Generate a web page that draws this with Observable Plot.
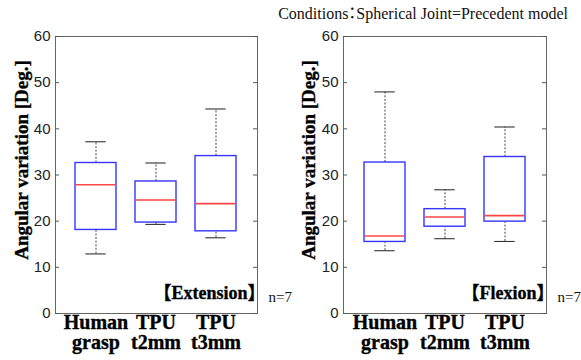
<!DOCTYPE html>
<html><head><meta charset="utf-8">
<script src="https://cdn.jsdelivr.net/npm/d3@7"></script>
<script src="https://cdn.jsdelivr.net/npm/@observablehq/plot@0.6"></script>
<style>
body{margin:0;background:#fff;}
#wrap{position:relative;width:581px;height:360px;overflow:hidden;background:#fff;}
#title{position:absolute;right:13px;top:6px;font:16px "Liberation Serif","Noto Sans CJK JP",serif;font-feature-settings:"halt";white-space:nowrap;line-height:1;color:#111;}
.panel{position:absolute;top:0;}
.panel svg{overflow:visible;}
.tag{font-feature-settings:"halt";}
</style></head><body>
<div id="wrap"><div id="title"></div></div>
<script>
const groups = ["Human grasp", "TPU t2mm", "TPU t3mm"];
const groupLabels = ["Human\ngrasp", "TPU\nt2mm", "TPU\nt3mm"];
const yTicks = [0, 10, 20, 30, 40, 50, 60];
const yLabel = "Angular variation [Deg.]";
const titleText = "Conditions：Spherical Joint=Precedent model";
const sampleNote = "n=7";

// Extension panel
const extName = "【Extension】";
const extLow = [12.9, 19.3, 16.4];
const extQ1 = [18.1, 19.7, 17.8];
const extMedian = [27.9, 24.6, 23.8];
const extQ3 = [32.6, 28.6, 34.1];
const extHigh = [37.2, 32.6, 44.3];

// Flexion panel
const flxName = "【Flexion】";
const flxLow = [13.6, 16.2, 15.6];
const flxQ1 = [15.5, 18.8, 19.9];
const flxMedian = [16.8, 20.9, 21.2];
const flxQ3 = [32.7, 22.6, 33.9];
const flxHigh = [48.0, 26.8, 40.4];

function table(low, q1, med, q3, high) {
  return groups.map((g, i) => ({group: g, label: groupLabels[i], low: low[i], q1: q1[i], median: med[i], q3: q3[i], high: high[i]}));
}

const serif = "Liberation Serif, Times New Roman, serif";
const serifCJK = "Liberation Serif, Times New Roman, Noto Sans CJK JP, serif";
const sans = "Liberation Sans, Arial, sans-serif";
const heavy = {fontWeight: "bold", fill: "#000", stroke: "#000", strokeWidth: 0.35, strokeLinejoin: "round"};

function panel(data, name, opts) {
  const frameW = opts.width - opts.marginLeft - opts.marginRight;
  return Plot.plot({
    width: opts.width,
    height: 360,
    marginTop: 36,
    marginBottom: 47,
    marginLeft: opts.marginLeft,
    marginRight: opts.marginRight,
    style: {background: "transparent", overflow: "visible"},
    x: {domain: groups, paddingInner: 0.31, paddingOuter: 0.338, axis: null},
    y: {domain: [0, 60], axis: null},
    marks: [
      Plot.ruleX(data, {x: "group", y1: "q3", y2: "high", stroke: "#444", strokeDasharray: "2,1.6", strokeWidth: 1}),
      Plot.ruleX(data, {x: "group", y1: "low", y2: "q1", stroke: "#444", strokeDasharray: "2,1.6", strokeWidth: 1}),
      Plot.tickY(data, {x: "group", y: "high", stroke: "#333", strokeWidth: 1.1, inset: 10.3}),
      Plot.tickY(data, {x: "group", y: "low", stroke: "#333", strokeWidth: 1.1, inset: 10.3}),
      Plot.barY(data, {x: "group", y1: "q1", y2: "q3", fill: "white", stroke: "#3535ff", strokeWidth: 1.4}),
      Plot.tickY(data, {x: "group", y: "median", stroke: "#ff4545", strokeWidth: 1.6, inset: 0.7}),
      Plot.frame({stroke: "#666", strokeWidth: 1}),
      // inward ticks on left and right edges
      Plot.tickY(yTicks, {y: d => d, stroke: "#555", insetRight: frameW - 4}),
      Plot.tickY(yTicks, {y: d => d, stroke: "#555", insetLeft: frameW - 4}),
      // y tick labels
      Plot.text(yTicks, {y: d => d, text: d => String(d), frameAnchor: "left", textAnchor: "end", dx: -5,
        fontSize: 15, fontFamily: sans, fill: "#222"}),
      // x tick labels
      Plot.text(data, {x: "group", text: "label", frameAnchor: "bottom", lineAnchor: "top", dy: 1,
        fontSize: 20, fontFamily: serif, ...heavy}),
      Plot.text([yLabel], {frameAnchor: "left", rotate: -90, dx: opts.labelDx, dy: -15,
        textAnchor: "middle", lineAnchor: "middle", fontSize: 19, fontFamily: serif, ...heavy}),
      Plot.text([name], {frameAnchor: "bottom-right", textAnchor: "end", lineAnchor: "bottom", className: "tag",
        dx: -1, dy: -15, fontSize: 18, fontFamily: serifCJK, ...heavy}),
      Plot.text([sampleNote], {frameAnchor: "bottom-right", textAnchor: "start", lineAnchor: "bottom",
        dx: 11, dy: -12, fontSize: 15, fontFamily: serif, fill: "#111"})
    ]
  });
}

const wrap = document.getElementById("wrap");
document.getElementById("title").textContent = titleText;

const left = panel(table(extLow, extQ1, extMedian, extQ3, extHigh), extName,
  {width: 290, marginLeft: 55, marginRight: 33, labelDx: -34});
const right = panel(table(flxLow, flxQ1, flxMedian, flxQ3, flxHigh), flxName,
  {width: 291, marginLeft: 53, marginRight: 35, labelDx: -35});

const dl = document.createElement("div"); dl.className = "panel"; dl.style.left = "0px"; dl.appendChild(left);
const dr = document.createElement("div"); dr.className = "panel"; dr.style.left = "290px"; dr.appendChild(right);
wrap.appendChild(dl); wrap.appendChild(dr);
</script>
</body></html>
